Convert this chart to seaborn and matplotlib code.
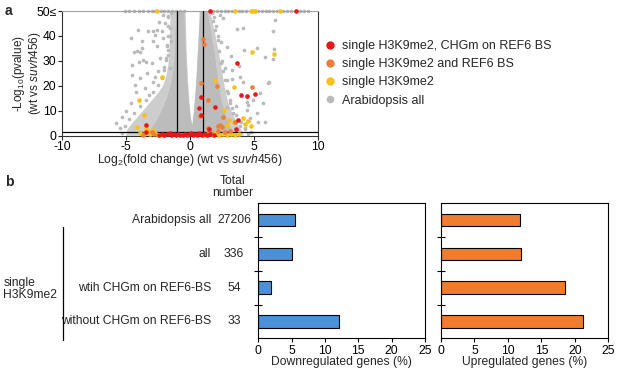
import matplotlib
matplotlib.use("Agg")
import matplotlib.pyplot as plt
import seaborn as sns
import pandas as pd
from matplotlib.lines import Line2D
from matplotlib.transforms import blended_transform_factory

# ---------------- data: panel a (volcano) ----------------
red_pts = [(1.56, 50), (8.3, 50), (3.65, 29.3), (3.95, 16.4), (4.48, 15.8), (5.1, 16.7),
           (0.88, 15.4), (0.72, 11.3), (1.98, 11.4), (0.85, 8.5), (3.75, 6.3), (3.62, 2.8),
           (1.52, 2.8), (-3.47, 4.4), (-3.47, 1.4),
           (-2.45, 0.3), (-2.2, 0.7), (-2.0, 0.2), (-1.8, 0.5), (-1.6, 0.9), (-1.45, 0.3),
           (-1.25, 0.6), (-1.1, 0.2), (-0.95, 0.8), (-0.75, 0.4), (-0.55, 0.2), (-0.4, 0.7),
           (-0.2, 0.3), (-0.05, 0.5), (0.1, 0.9), (0.25, 0.2), (0.4, 0.6), (0.55, 0.4),
           (0.7, 1.0), (0.9, 0.3), (1.1, 0.7), (1.3, 0.2), (1.55, 0.5), (1.85, 0.4)]
orange_pts = [(1.05, 38.8), (1.1, 36.6), (2.08, 19.8), (0.84, 21.0), (1.38, 14.2), (0.76, 8.0),
              (2.6, 7.5), (3.5, 5.4), (2.5, 3.4), (3.1, 2.0), (2.2, 4.0), (2.34, 4.2),
              (1.43, 2.9), (2.73, 1.6), (4.82, 19.5), (-3.0, 1.6), (-2.8, 0.6), (-3.7, 0.4),
              (1.4, 1.2), (2.15, 1.9)]
yellow_pts = [(-2.55, 50), (3.5, 50), (4.75, 50), (4.9, 50), (5.05, 50), (7.0, 50),
              (4.85, 33.5), (6.55, 32.8), (3.46, 19.7), (1.95, 22.3), (-2.18, 23.5),
              (-4.0, 14.3), (-3.58, 8.4), (-4.17, 3.4), (2.68, 10.3), (3.07, 6.3), (4.17, 7.2),
              (4.5, 6.0), (4.8, 4.0), (4.3, 4.7), (2.87, 4.3), (3.4, 5.4), (1.95, 0.9),
              (-3.9, 1.2), (-3.6, 0.5), (-3.3, 1.8), (-3.1, 0.8), (-2.9, 2.3), (-2.7, 1.1),
              (-2.5, 0.4), (-3.45, 2.6), (-2.2, 0.3), (1.7, 0.5), (2.0, 1.3), (2.3, 0.4),
              (2.6, 0.8), (2.9, 0.3), (3.2, 0.6), (3.5, 0.3), (3.8, 0.7), (1.2, 0.4)]
gray_pts = [(-2.14, 48.2), (-1.69, 47.4), (-1.95, 45.1), (-2.6, 42.4), (-2.2, 41.8), (-4.1, 42.4),
            (-3.26, 41.8), (-2.73, 40.4), (-4.63, 39.1), (-3.72, 37.8), (-4.35, 33.7), (-4.17, 34.1),
            (-3.78, 35.1), (-3.98, 29.7), (-3.46, 29.6), (-3.0, 29.1), (-4.55, 28.4), (-1.56, 43.1),
            (-2.08, 39.1), (-1.82, 36.4), (-1.45, 37.8), (-2.87, 41.8), (-3.9, 33.7), (-2.6, 35.8),
            (-1.7, 32.4), (-2.34, 31.1), (-3.65, 30.4), (-1.6, 27.1), (-4.55, 24.4), (-3.38, 25.1),
            (-3.9, 23.1), (-2.5, 26.0), (-2.9, 21.5), (-3.5, 19.0), (-4.2, 17.5), (-4.6, 13.0),
            (-5.0, 10.0), (-5.3, 7.5), (-5.78, 5.0), (-5.5, 3.0), (-2.4, 45.5), (-1.45, 49.0),
            (-2.9, 38.0), (-4.3, 20.5), (-3.2, 16.5), (-2.7, 23.5), (-2.0, 26.5), (-1.9, 30.5),
            (-1.75, 34.5), (-1.6, 40.0),
            (-5.3, 1.0), (-5.1, 4.0), (-4.8, 6.5), (-4.4, 9.0), (-3.9, 12.0), (-3.4, 14.5),
            (-2.9, 17.5), (-2.5, 20.5), (-2.2, 23.0), (-2.0, 27.5), (-1.85, 31.0), (-1.8, 36.0),
            (-1.75, 40.0), (-1.7, 44.0), (-1.72, 48.0),
            (6.64, 46.2), (6.46, 41.8), (3.65, 42.7), (4.17, 43.1), (2.87, 35.7), (4.24, 34.4),
            (5.26, 35.1), (6.59, 34.7), (5.86, 31.7), (6.46, 30.7), (2.34, 48.5), (2.6, 47.1),
            (2.87, 22.4), (3.26, 22.6), (3.9, 23.7), (6.12, 21.0), (5.47, 17.0), (4.43, 15.7),
            (4.95, 14.3), (4.56, 12.3), (3.13, 13.0), (2.87, 11.6), (2.6, 9.6), (3.38, 9.0),
            (4.43, 10.3), (5.2, 9.0), (5.73, 13.0), (4.69, 7.0), (6.17, 21.4), (4.17, 21.7),
            (4.43, 13.7), (5.34, 5.6), (5.86, 5.6), (2.2, 40.0), (2.0, 44.0), (2.5, 30.0),
            (2.7, 27.0), (3.2, 32.0), (3.0, 17.0), (3.6, 12.0), (3.9, 4.0), (4.3, 2.5), (4.8, 1.5),
            (2.4, 37.5), (1.9, 47.5), (3.3, 26.5), (3.8, 28.0), (1.7, 49.0),
            (4.5, 0.6), (4.3, 3.0), (4.0, 5.5), (3.6, 8.5), (3.3, 11.0), (3.1, 14.5), (2.9, 18.0),
            (2.75, 22.5), (2.6, 26.0), (2.45, 29.0), (2.3, 34.0), (2.15, 38.5), (1.95, 42.5),
            (1.8, 46.0),
            (-5.1, 50), (-4.8, 50), (-4.4, 50), (-4.0, 50), (-3.7, 50), (-3.3, 50), (-3.0, 50),
            (-2.8, 50), (-2.3, 50), (-2.0, 50), (-1.7, 50), (-1.4, 50), (-1.1, 50), (-0.8, 50),
            (-0.5, 50), (1.8, 50), (2.1, 50), (2.4, 50), (2.7, 50), (3.0, 50), (3.3, 50), (3.8, 50),
            (4.1, 50), (4.4, 50), (5.3, 50), (5.6, 50), (5.9, 50), (6.2, 50), (6.5, 50), (6.8, 50),
            (7.3, 50), (7.6, 50), (7.9, 50), (8.6, 50), (8.9, 50), (9.2, 50)]
# outline of the densely packed part of the gray cloud
halo_outline = [(-5.0, 0), (-4.9, 2.5), (-4.5, 5), (-4.0, 8), (-3.5, 11), (-3.0, 14), (-2.5, 17),
                (-2.1, 20), (-1.85, 24), (-1.7, 28), (-1.6, 34), (-1.55, 42), (-1.5, 50),
                (-0.35, 50), (-0.3, 42), (-0.25, 32), (-0.15, 22), (-0.05, 14), (0.08, 7),
                (0.18, 4), (0.3, 9), (0.42, 16), (0.52, 24), (0.6, 32), (0.7, 42), (0.75, 50),
                (1.55, 50), (1.75, 46), (2.0, 40), (2.3, 32), (2.5, 26), (2.7, 20), (3.0, 13),
                (3.4, 8), (3.8, 4), (4.1, 1.5), (4.2, 0)]
core_outline = [(-3.3, 0), (-3.0, 3), (-2.6, 6), (-2.2, 10), (-1.8, 15), (-1.5, 20), (-1.3, 26),
                (-1.2, 32), (-1.15, 40), (-1.1, 46), (-1.0, 50), (-0.45, 50), (-0.4, 42),
                (-0.32, 32), (-0.22, 22), (-0.1, 14), (0.05, 7), (0.18, 4), (0.3, 9), (0.42, 16),
                (0.52, 24), (0.6, 32), (0.72, 42), (0.82, 50), (1.35, 50), (1.5, 46), (1.7, 40),
                (1.95, 32), (2.1, 26), (2.25, 20), (2.5, 13), (2.8, 8), (3.1, 4), (3.4, 1.5),
                (3.6, 0)]
volcano_xticks = [-10, -5, 0, 5, 10]
volcano_yticks = [0, 10, 20, 30, 40, 50]
volcano_yticklabels = ["0", "10", "20", "30", "40", "50\u2264"]
legend_labels = ["single H3K9me2, CHGm on REF6 BS", "single H3K9me2 and REF6 BS",
                 "single H3K9me2", "Arabidopsis all"]

# ---------------- data: panel b (bars) ----------------
categories = ["Arabidopsis all", "all", "wtih CHGm on REF6-BS", "without CHGm on REF6-BS"]
totals = ["27206", "336", "54", "33"]
down_pct = [5.5, 5.0, 1.85, 12.15]
up_pct = [11.85, 12.0, 18.55, 21.15]
bar_xticks = [0, 5, 10, 15, 20, 25]

# ---------------- style ----------------
sns.set_theme(style="white")
plt.rcParams["font.family"] = ["Liberation Sans", "DejaVu Sans"]
plt.rcParams["mathtext.fontset"] = "custom"
plt.rcParams["mathtext.rm"] = "Liberation Sans"
plt.rcParams["mathtext.it"] = "Liberation Sans:italic"
plt.rcParams["axes.unicode_minus"] = False

RED, ORANGE, YELLOW, GRAY = "#e8161b", "#ec7d3a", "#f8c11a", "#bababa"
BLUE_BAR, ORANGE_BAR = "#4b91d7", "#f07d2d"
FS = 8.7

W, H = 617.0, 371.0
fig = plt.figure(figsize=(W / 100, H / 100), dpi=100)


def rect(l, t, r, b):
    return [l / W, 1 - b / H, (r - l) / W, (b - t) / H]


def fx(px):
    return px / W


def fy(py):
    return 1 - py / H


# ---------------- panel a ----------------
ax = fig.add_axes(rect(62, 11, 318, 135.7))
hx, hy = zip(*halo_outline)
ax.fill(hx, hy, color="#cdcdcd", lw=0, zorder=1)
cx, cy = zip(*core_outline)
ax.fill(cx, cy, color="#bcbcbc", lw=0, zorder=1.5)
gx, gy = zip(*gray_pts)
sns.scatterplot(x=list(gx), y=list(gy), color=GRAY, s=7, linewidth=0, ax=ax,
                zorder=2, clip_on=False, legend=False)
for v in (-1, 1):
    ax.axvline(v, color="black", lw=0.9, zorder=3)
ax.axhline(1.3, color="black", lw=0.9, zorder=3)
for pts, col in ((yellow_pts, YELLOW), (orange_pts, ORANGE), (red_pts, RED)):
    px_, py_ = zip(*pts)
    sns.scatterplot(x=list(px_), y=list(py_), color=col, s=11, linewidth=0, ax=ax,
                    zorder=4, clip_on=False, legend=False)
ax.set_xlim(-10, 10)
ax.set_ylim(0, 50)
ax.set_xticks(volcano_xticks)
ax.set_xticklabels([str(t) for t in volcano_xticks], fontsize=FS)
ax.set_yticks(volcano_yticks)
ax.set_yticklabels(volcano_yticklabels, fontsize=FS)
ax.tick_params(axis="both", direction="out", length=3, width=0.8, pad=1,
               bottom=True, left=True, colors="#222222", labelcolor="black")
for side, sp in ax.spines.items():
    sp.set_color("#333333")
    sp.set_linewidth(0.8)
ax.spines["top"].set_color("#a0a0a0")
ax.set_xlabel("Log$_2$(fold change) (wt vs $\\mathit{suvh456}$)", fontsize=FS)
ax.xaxis.set_label_coords(0.5, (135.7 - 160) / 124.7)
ax.xaxis.label.set_va("center")
# two-line y label, placed line by line
fig.text(fx(19), fy(73.3), "-Log$_{10}$(pvalue)", rotation=90, ha="center", va="center",
         fontsize=8.5)
fig.text(fx(35), fy(73.3), "(wt vs $\\mathit{suvh456}$)", rotation=90, ha="center",
         va="center", fontsize=8.5)

handles = [Line2D([0], [0], marker="o", ls="", color=c, markersize=ms, markeredgewidth=0)
           for c, ms in ((RED, 6), (ORANGE, 6), (YELLOW, 6), (GRAY, 5.5))]
fig.legend(handles, legend_labels, loc="upper left", bbox_to_anchor=(fx(325), fy(40)),
           frameon=False, fontsize=9, handlelength=0.8, handletextpad=0.6,
           labelspacing=0.5, borderpad=0, borderaxespad=0)

fig.text(fx(5), fy(11), "a", fontsize=10, fontweight="bold", ha="left", va="center")
fig.text(fx(5), fy(182), "b", fontsize=10, fontweight="bold", ha="left", va="center")

# ---------------- panel b ----------------
df = pd.DataFrame({"group": categories, "down": down_pct, "up": up_pct})
ax_d = fig.add_axes(rect(258.3, 203.3, 425, 338.3))
ax_u = fig.add_axes(rect(441, 203.3, 608.3, 338.3))
for a, col, c, lab in ((ax_d, "down", BLUE_BAR, "Downregulated genes (%)"),
                       (ax_u, "up", ORANGE_BAR, "Upregulated genes (%)")):
    sns.barplot(data=df, y="group", x=col, order=categories, color=c, saturation=1,
                edgecolor="black", linewidth=0.8, width=0.37, ax=a)
    a.set_xlim(0, 25)
    a.set_ylim(3.5, -0.5)
    a.set_xticks(bar_xticks)
    a.set_xticklabels([str(t) for t in bar_xticks], fontsize=FS)
    a.set_yticks([0.5, 1.5, 2.5])
    a.set_yticklabels([])
    a.set_ylabel("")
    a.set_xlabel(lab, fontsize=FS)
    a.xaxis.set_label_coords(0.5, (338.3 - 362) / 135)
    a.xaxis.label.set_va("center")
    a.tick_params(axis="y", direction="inout", length=6, width=0.8, left=True, colors="black")
    a.tick_params(axis="x", direction="out", length=3, width=0.8, bottom=True, pad=1.5,
                  colors="black")
    for sp in a.spines.values():
        sp.set_color("black")
        sp.set_linewidth(0.8)

trans = blended_transform_factory(fig.transFigure, ax_d.transData)
for i, (cat, tot) in enumerate(zip(categories, totals)):
    ax_d.text(fx(211), i, cat, transform=trans, ha="right", va="center", fontsize=FS,
              clip_on=False)
    ax_d.text(fx(234), i, tot, transform=trans, ha="center", va="center", fontsize=FS,
              clip_on=False)
fig.text(fx(233), fy(187), "Total\nnumber", ha="center", va="center", fontsize=FS,
         linespacing=0.95)
fig.add_artist(Line2D([fx(62.7), fx(62.7)], [fy(227), fy(340)], color="black", lw=0.9))
fig.text(fx(3.3), fy(289), "single\nH3K9me2", ha="left", va="center", fontsize=FS,
         linespacing=0.95)

fig.savefig("out.png", dpi=100)
